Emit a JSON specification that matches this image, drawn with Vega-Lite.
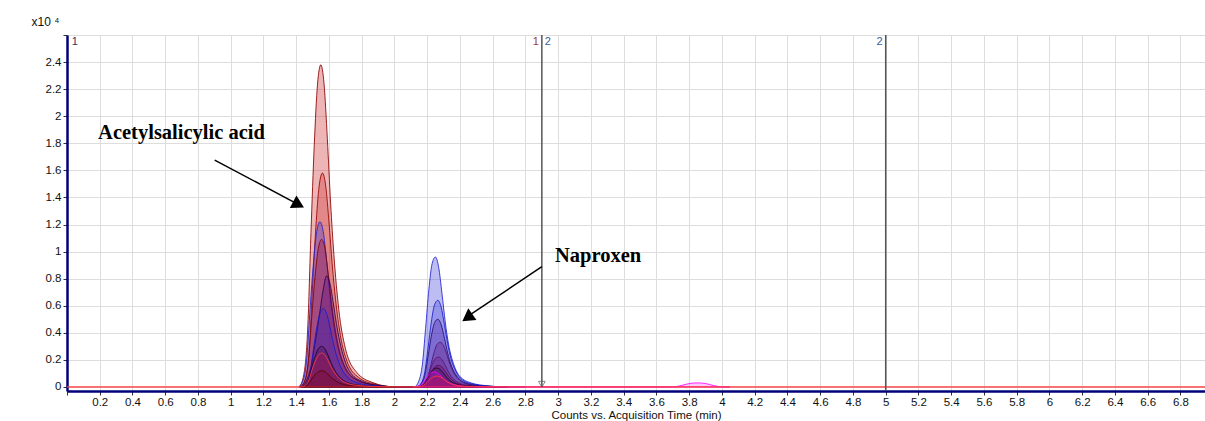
{
  "$schema": "https://vega.github.io/schema/vega-lite/v6.json",
  "width": 1138,
  "height": 356,
  "autosize": {"type": "none"},
  "padding": {"left": 67, "top": 35, "right": 0, "bottom": 30},
  "background": "white",
  "config": {
    "view": {"stroke": null},
    "axis": {
      "gridColor": "#dddddd", "gridWidth": 1,
      "labelFont": "Liberation Sans", "labelFontSize": 11.5, "labelColor": "#111111",
      "tickColor": "#333333", "tickSize": 4,
      "domainColor": "#00007a", "domainWidth": 2.5,
      "titleFont": "Liberation Sans", "titleColor": "#111111"
    }
  },
  "datasets": {
    "traces": [
      {"s":"A","t":1.42,"v":0},{"s":"A","t":1.45,"v":0.119},{"s":"A","t":1.47,"v":0.428},{"s":"A","t":1.49,"v":1.142},{"s":"A","t":1.51,"v":1.785},{"s":"A","t":1.53,"v":2.237},{"s":"A","t":1.55,"v":2.38},{"s":"A","t":1.57,"v":2.237},{"s":"A","t":1.59,"v":1.833},{"s":"A","t":1.61,"v":1.357},{"s":"A","t":1.63,"v":0.976},{"s":"A","t":1.66,"v":0.571},{"s":"A","t":1.70,"v":0.286},{"s":"A","t":1.77,"v":0.107},{"s":"A","t":1.87,"v":0.031},{"s":"A","t":2.00,"v":0},
      {"s":"A","t":2.15,"v":0},{"s":"A","t":2.18,"v":0.017},{"s":"A","t":2.20,"v":0.056},{"s":"A","t":2.22,"v":0.149},{"s":"A","t":2.24,"v":0.248},{"s":"A","t":2.26,"v":0.314},{"s":"A","t":2.28,"v":0.33},{"s":"A","t":2.30,"v":0.304},{"s":"A","t":2.32,"v":0.238},{"s":"A","t":2.34,"v":0.165},{"s":"A","t":2.36,"v":0.109},{"s":"A","t":2.39,"v":0.059},{"s":"A","t":2.43,"v":0.026},{"s":"A","t":2.50,"v":0.01},{"s":"A","t":2.60,"v":0.003},{"s":"A","t":2.70,"v":0},

      {"s":"B","t":1.43,"v":0},{"s":"B","t":1.46,"v":0.079},{"s":"B","t":1.48,"v":0.284},{"s":"B","t":1.50,"v":0.758},{"s":"B","t":1.52,"v":1.185},{"s":"B","t":1.54,"v":1.485},{"s":"B","t":1.56,"v":1.58},{"s":"B","t":1.58,"v":1.485},{"s":"B","t":1.60,"v":1.217},{"s":"B","t":1.62,"v":0.901},{"s":"B","t":1.64,"v":0.648},{"s":"B","t":1.67,"v":0.379},{"s":"B","t":1.71,"v":0.19},{"s":"B","t":1.78,"v":0.071},{"s":"B","t":1.88,"v":0.021},{"s":"B","t":2.01,"v":0},
      {"s":"B","t":2.14,"v":0},{"s":"B","t":2.17,"v":0.011},{"s":"B","t":2.19,"v":0.037},{"s":"B","t":2.21,"v":0.099},{"s":"B","t":2.23,"v":0.165},{"s":"B","t":2.25,"v":0.209},{"s":"B","t":2.27,"v":0.22},{"s":"B","t":2.29,"v":0.202},{"s":"B","t":2.31,"v":0.158},{"s":"B","t":2.33,"v":0.11},{"s":"B","t":2.35,"v":0.073},{"s":"B","t":2.38,"v":0.04},{"s":"B","t":2.42,"v":0.018},{"s":"B","t":2.49,"v":0.007},{"s":"B","t":2.59,"v":0.002},{"s":"B","t":2.69,"v":0},

      {"s":"C","t":1.415,"v":0},{"s":"C","t":1.445,"v":0.061},{"s":"C","t":1.465,"v":0.22},{"s":"C","t":1.485,"v":0.586},{"s":"C","t":1.505,"v":0.915},{"s":"C","t":1.525,"v":1.147},{"s":"C","t":1.545,"v":1.22},{"s":"C","t":1.565,"v":1.147},{"s":"C","t":1.585,"v":0.939},{"s":"C","t":1.605,"v":0.695},{"s":"C","t":1.625,"v":0.5},{"s":"C","t":1.655,"v":0.293},{"s":"C","t":1.695,"v":0.146},{"s":"C","t":1.765,"v":0.055},{"s":"C","t":1.865,"v":0.016},{"s":"C","t":1.995,"v":0},
      {"s":"C","t":2.12,"v":0},{"s":"C","t":2.15,"v":0.048},{"s":"C","t":2.17,"v":0.163},{"s":"C","t":2.19,"v":0.432},{"s":"C","t":2.21,"v":0.72},{"s":"C","t":2.23,"v":0.912},{"s":"C","t":2.25,"v":0.96},{"s":"C","t":2.27,"v":0.883},{"s":"C","t":2.29,"v":0.691},{"s":"C","t":2.31,"v":0.48},{"s":"C","t":2.33,"v":0.317},{"s":"C","t":2.36,"v":0.173},{"s":"C","t":2.40,"v":0.077},{"s":"C","t":2.47,"v":0.029},{"s":"C","t":2.57,"v":0.008},{"s":"C","t":2.67,"v":0},{"s":"C","t":2.8,"v":0},

      {"s":"D","t":1.425,"v":0},{"s":"D","t":1.455,"v":0.055},{"s":"D","t":1.475,"v":0.196},{"s":"D","t":1.495,"v":0.523},{"s":"D","t":1.515,"v":0.818},{"s":"D","t":1.535,"v":1.025},{"s":"D","t":1.555,"v":1.09},{"s":"D","t":1.575,"v":1.025},{"s":"D","t":1.595,"v":0.839},{"s":"D","t":1.615,"v":0.621},{"s":"D","t":1.635,"v":0.447},{"s":"D","t":1.665,"v":0.262},{"s":"D","t":1.705,"v":0.131},{"s":"D","t":1.775,"v":0.049},{"s":"D","t":1.875,"v":0.014},{"s":"D","t":2.005,"v":0},
      {"s":"D","t":2.14,"v":0},{"s":"D","t":2.17,"v":0.008},{"s":"D","t":2.19,"v":0.027},{"s":"D","t":2.21,"v":0.072},{"s":"D","t":2.23,"v":0.12},{"s":"D","t":2.25,"v":0.152},{"s":"D","t":2.27,"v":0.16},{"s":"D","t":2.29,"v":0.147},{"s":"D","t":2.31,"v":0.115},{"s":"D","t":2.33,"v":0.08},{"s":"D","t":2.35,"v":0.053},{"s":"D","t":2.38,"v":0.029},{"s":"D","t":2.42,"v":0.013},{"s":"D","t":2.49,"v":0.005},{"s":"D","t":2.59,"v":0.001},{"s":"D","t":2.69,"v":0},

      {"s":"E","t":1.43,"v":0},{"s":"E","t":1.46,"v":0.04},{"s":"E","t":1.49,"v":0.15},{"s":"E","t":1.52,"v":0.36},{"s":"E","t":1.545,"v":0.56},{"s":"E","t":1.565,"v":0.72},{"s":"E","t":1.585,"v":0.82},{"s":"E","t":1.605,"v":0.77},{"s":"E","t":1.625,"v":0.63},{"s":"E","t":1.645,"v":0.47},{"s":"E","t":1.665,"v":0.34},{"s":"E","t":1.695,"v":0.2},{"s":"E","t":1.735,"v":0.1},{"s":"E","t":1.805,"v":0.04},{"s":"E","t":1.905,"v":0.011},{"s":"E","t":2.035,"v":0},
      {"s":"E","t":2.135,"v":0},{"s":"E","t":2.165,"v":0.025},{"s":"E","t":2.185,"v":0.085},{"s":"E","t":2.205,"v":0.225},{"s":"E","t":2.225,"v":0.375},{"s":"E","t":2.245,"v":0.475},{"s":"E","t":2.265,"v":0.5},{"s":"E","t":2.285,"v":0.46},{"s":"E","t":2.305,"v":0.36},{"s":"E","t":2.325,"v":0.25},{"s":"E","t":2.345,"v":0.165},{"s":"E","t":2.375,"v":0.09},{"s":"E","t":2.415,"v":0.04},{"s":"E","t":2.485,"v":0.015},{"s":"E","t":2.585,"v":0.004},{"s":"E","t":2.685,"v":0},

      {"s":"F","t":1.435,"v":0},{"s":"F","t":1.465,"v":0.029},{"s":"F","t":1.485,"v":0.104},{"s":"F","t":1.505,"v":0.278},{"s":"F","t":1.525,"v":0.435},{"s":"F","t":1.545,"v":0.545},{"s":"F","t":1.565,"v":0.58},{"s":"F","t":1.585,"v":0.545},{"s":"F","t":1.605,"v":0.447},{"s":"F","t":1.625,"v":0.331},{"s":"F","t":1.645,"v":0.238},{"s":"F","t":1.675,"v":0.139},{"s":"F","t":1.715,"v":0.07},{"s":"F","t":1.785,"v":0.026},{"s":"F","t":1.885,"v":0.008},{"s":"F","t":2.015,"v":0},
      {"s":"F","t":2.135,"v":0},{"s":"F","t":2.165,"v":0.032},{"s":"F","t":2.185,"v":0.109},{"s":"F","t":2.205,"v":0.288},{"s":"F","t":2.225,"v":0.48},{"s":"F","t":2.245,"v":0.608},{"s":"F","t":2.265,"v":0.64},{"s":"F","t":2.285,"v":0.589},{"s":"F","t":2.305,"v":0.461},{"s":"F","t":2.325,"v":0.32},{"s":"F","t":2.345,"v":0.211},{"s":"F","t":2.375,"v":0.115},{"s":"F","t":2.415,"v":0.051},{"s":"F","t":2.485,"v":0.019},{"s":"F","t":2.585,"v":0.005},{"s":"F","t":2.685,"v":0},

      {"s":"G","t":1.425,"v":0},{"s":"G","t":1.455,"v":0.015},{"s":"G","t":1.475,"v":0.054},{"s":"G","t":1.495,"v":0.144},{"s":"G","t":1.515,"v":0.225},{"s":"G","t":1.535,"v":0.282},{"s":"G","t":1.555,"v":0.3},{"s":"G","t":1.575,"v":0.282},{"s":"G","t":1.595,"v":0.231},{"s":"G","t":1.615,"v":0.171},{"s":"G","t":1.635,"v":0.123},{"s":"G","t":1.665,"v":0.072},{"s":"G","t":1.705,"v":0.036},{"s":"G","t":1.775,"v":0.014},{"s":"G","t":1.875,"v":0.004},{"s":"G","t":2.005,"v":0},
      {"s":"G","t":2.13,"v":0},{"s":"G","t":2.16,"v":0.007},{"s":"G","t":2.18,"v":0.024},{"s":"G","t":2.20,"v":0.063},{"s":"G","t":2.22,"v":0.105},{"s":"G","t":2.24,"v":0.133},{"s":"G","t":2.26,"v":0.14},{"s":"G","t":2.28,"v":0.129},{"s":"G","t":2.30,"v":0.101},{"s":"G","t":2.32,"v":0.07},{"s":"G","t":2.34,"v":0.046},{"s":"G","t":2.37,"v":0.025},{"s":"G","t":2.41,"v":0.011},{"s":"G","t":2.48,"v":0.004},{"s":"G","t":2.58,"v":0.001},{"s":"G","t":2.68,"v":0},

      {"s":"J","t":1.425,"v":0},{"s":"J","t":1.455,"v":0.006},{"s":"J","t":1.475,"v":0.022},{"s":"J","t":1.495,"v":0.058},{"s":"J","t":1.515,"v":0.09},{"s":"J","t":1.535,"v":0.113},{"s":"J","t":1.555,"v":0.12},{"s":"J","t":1.575,"v":0.113},{"s":"J","t":1.595,"v":0.092},{"s":"J","t":1.615,"v":0.068},{"s":"J","t":1.635,"v":0.049},{"s":"J","t":1.665,"v":0.029},{"s":"J","t":1.705,"v":0.014},{"s":"J","t":1.775,"v":0.005},{"s":"J","t":1.875,"v":0.002},{"s":"J","t":2.005,"v":0},

      {"s":"I","t":2.115,"v":0},{"s":"I","t":2.145,"v":0.006},{"s":"I","t":2.165,"v":0.019},{"s":"I","t":2.185,"v":0.05},{"s":"I","t":2.205,"v":0.083},{"s":"I","t":2.225,"v":0.105},{"s":"I","t":2.245,"v":0.11},{"s":"I","t":2.265,"v":0.101},{"s":"I","t":2.285,"v":0.079},{"s":"I","t":2.305,"v":0.055},{"s":"I","t":2.325,"v":0.036},{"s":"I","t":2.355,"v":0.02},{"s":"I","t":2.395,"v":0.009},{"s":"I","t":2.465,"v":0.003},{"s":"I","t":2.565,"v":0.001},{"s":"I","t":2.665,"v":0},
      {"s":"I","t":3.70,"v":0},{"s":"I","t":3.75,"v":0.01},{"s":"I","t":3.80,"v":0.025},{"s":"I","t":3.85,"v":0.03},{"s":"I","t":3.90,"v":0.025},{"s":"I","t":3.95,"v":0.01},{"s":"I","t":4.00,"v":0},{"s":"I","t":4.05,"v":0},

      {"s":"H","t":0,"v":0},{"s":"H","t":1.425,"v":0},{"s":"H","t":1.455,"v":0.013},{"s":"H","t":1.475,"v":0.045},{"s":"H","t":1.495,"v":0.12},{"s":"H","t":1.515,"v":0.188},{"s":"H","t":1.535,"v":0.235},{"s":"H","t":1.555,"v":0.25},{"s":"H","t":1.575,"v":0.235},{"s":"H","t":1.595,"v":0.193},{"s":"H","t":1.615,"v":0.143},{"s":"H","t":1.635,"v":0.103},{"s":"H","t":1.665,"v":0.06},{"s":"H","t":1.705,"v":0.03},{"s":"H","t":1.775,"v":0.011},{"s":"H","t":1.875,"v":0.003},{"s":"H","t":2.005,"v":0},
      {"s":"H","t":2.13,"v":0},{"s":"H","t":2.16,"v":0.004},{"s":"H","t":2.18,"v":0.014},{"s":"H","t":2.20,"v":0.036},{"s":"H","t":2.22,"v":0.06},{"s":"H","t":2.24,"v":0.076},{"s":"H","t":2.26,"v":0.08},{"s":"H","t":2.28,"v":0.074},{"s":"H","t":2.30,"v":0.058},{"s":"H","t":2.32,"v":0.04},{"s":"H","t":2.34,"v":0.026},{"s":"H","t":2.37,"v":0.014},{"s":"H","t":2.41,"v":0.006},{"s":"H","t":2.48,"v":0.002},{"s":"H","t":2.58,"v":0.001},{"s":"H","t":2.68,"v":0},{"s":"H","t":2.88,"v":0},{"s":"H","t":4.05,"v":0},{"s":"H","t":6.95,"v":0}
    ],
    "markers": [
      {"t": 2.9, "v": 2.6, "v2": 0},
      {"t": 5.0, "v": 2.6, "v2": -0.03}
    ],
    "tri": [{"t": 2.9, "v": 0.02}],
    "mlabL": [
      {"t": 0.01, "v": 2.6, "label": "1", "c": "k"},
      {"t": 2.9, "v": 2.6, "label": "2", "c": "b"}
    ],
    "mlabR": [
      {"t": 2.9, "v": 2.6, "label": "1", "c": "r"},
      {"t": 5.0, "v": 2.6, "label": "2", "c": "b"}
    ],
    "notes": [
      {"t": 0.19, "v": 1.875, "label": "Acetylsalicylic acid"},
      {"t": 2.98, "v": 0.967, "label": "Naproxen"}
    ],
    "arrows": [
      {"t": 0.902, "v": 1.676, "t2": 1.42, "v2": 1.343},
      {"t": 2.9, "v": 0.888, "t2": 2.44, "v2": 0.515}
    ],
    "head1": [{"t": 1.414, "v": 1.346}],
    "head2": [{"t": 2.445, "v": 0.512}]
  },
  "encoding": {
    "x": {
      "field": "t", "type": "quantitative",
      "scale": {"domain": [0, 6.95], "nice": false, "zero": false},
      "axis": {
        "values": [0,0.2,0.4,0.6,0.8,1,1.2,1.4,1.6,1.8,2,2.2,2.4,2.6,2.8,3,3.2,3.4,3.6,3.8,4,4.2,4.4,4.6,4.8,5,5.2,5.4,5.6,5.8,6,6.2,6.4,6.6,6.8],
        "labelExpr": "datum.value == 0 ? '' : format(datum.value, '.1~f')",
        "labelPadding": 1,
        "title": "Counts vs. Acquisition Time (min)",
        "titleFontSize": 11.5, "titleFontWeight": "normal", "titlePadding": 2
      }
    },
    "y": {
      "field": "v", "type": "quantitative",
      "scale": {"domain": [-0.03, 2.6], "nice": false, "zero": false},
      "stack": null,
      "axis": {
        "values": [0,0.2,0.4,0.6,0.8,1,1.2,1.4,1.6,1.8,2,2.2,2.4,2.6],
        "labelExpr": "datum.value > 2.5 ? '' : format(datum.value, '.1~f')",
        "labelPadding": 2,
        "title": "x10 ⁴",
        "titleAngle": 0, "titleX": -22, "titleY": -14,
        "titleAlign": "center", "titleBaseline": "middle",
        "titleFontSize": 12, "titleFontWeight": "normal"
      }
    }
  },
  "layer": [
    {
      "data": {"name": "traces"},
      "mark": {"type": "area", "interpolate": "monotone", "strokeWidth": 1, "strokeOpacity": 0.85},
      "encoding": {
        "fill": {
          "field": "s", "type": "nominal", "legend": null,
          "scale": {"domain": ["A","B","C","D","E","F","G","J","I","H"],
                    "range": ["#cc3333","#cc3333","#3333dd","#990033","#4b0082","#2222cc","#330033","#550000","#ff00ff","#ff0000"]}
        },
        "fillOpacity": {
          "field": "s", "type": "nominal", "legend": null,
          "scale": {"domain": ["A","B","C","D","E","F","G","J","I","H"],
                    "range": [0.36, 0.18, 0.45, 0.42, 0.5, 0.35, 0.4, 0.4, 0.35, 0.5]}
        },
        "stroke": {
          "field": "s", "type": "nominal", "legend": null,
          "scale": {"domain": ["A","B","C","D","E","F","G","J","I","H"],
                    "range": ["#8b0000","#990000","#2222cc","#800000","#2a0050","#1a1acc","#220022","#330000","#ff00ff","#ff3a3a"]}
        }
      }
    },
    {
      "data": {"name": "markers"},
      "mark": {"type": "rule", "color": "#555555", "strokeWidth": 1.5},
      "encoding": {"y2": {"field": "v2"}}
    },
    {
      "data": {"name": "tri"},
      "mark": {"type": "point", "shape": "triangle-down", "filled": false, "color": "#555555", "size": 45, "strokeWidth": 1}
    },
    {
      "data": {"name": "mlabL"},
      "mark": {"type": "text", "align": "left", "baseline": "top", "dx": 3, "dy": 1, "font": "Liberation Sans", "fontSize": 11},
      "encoding": {
        "text": {"field": "label"},
        "color": {"field": "c", "type": "nominal", "legend": null, "scale": {"domain": ["k","b","r"], "range": ["#333366","#3a5a9a","#a04020"]}}
      }
    },
    {
      "data": {"name": "mlabR"},
      "mark": {"type": "text", "align": "right", "baseline": "top", "dx": -3, "dy": 1, "font": "Liberation Sans", "fontSize": 11},
      "encoding": {
        "text": {"field": "label"},
        "color": {"field": "c", "type": "nominal", "legend": null, "scale": {"domain": ["k","b","r"], "range": ["#333366","#3a5a9a","#a04020"]}}
      }
    },
    {
      "data": {"name": "notes"},
      "mark": {"type": "text", "align": "left", "baseline": "middle", "font": "Liberation Serif", "fontSize": 20.5, "fontWeight": "bold", "color": "#000000"},
      "encoding": {"text": {"field": "label"}}
    },
    {
      "data": {"name": "arrows"},
      "mark": {"type": "rule", "color": "#000000", "strokeWidth": 1.5},
      "encoding": {"x2": {"field": "t2"}, "y2": {"field": "v2"}}
    },
    {
      "data": {"name": "head1"},
      "mark": {"type": "point", "shape": "triangle-up", "filled": true, "color": "#000000", "opacity": 1, "size": 200, "angle": 118}
    },
    {
      "data": {"name": "head2"},
      "mark": {"type": "point", "shape": "triangle-up", "filled": true, "color": "#000000", "opacity": 1, "size": 200, "angle": 235}
    }
  ]
}
